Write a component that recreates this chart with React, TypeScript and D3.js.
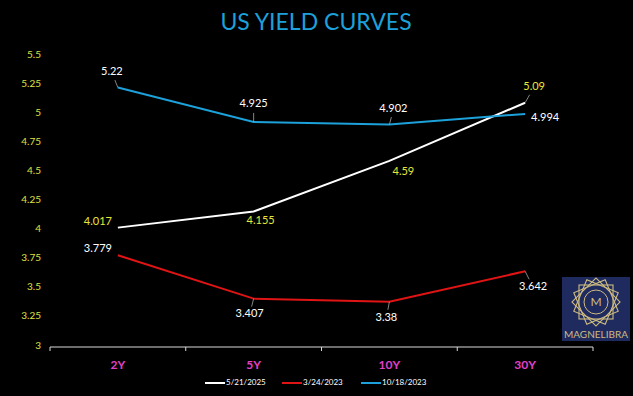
import React from "react";
import * as d3 from "d3";

const categories = ["2Y", "5Y", "10Y", "30Y"];
const yTicks = [3, 3.25, 3.5, 3.75, 4, 4.25, 4.5, 4.75, 5, 5.25, 5.5];
const seriesNames = ["5/21/2025", "3/24/2023", "10/18/2023"];
const values2025 = [4.017, 4.155, 4.59, 5.09];
const values2023Mar = [3.779, 3.407, 3.38, 3.642];
const values2023Oct = [5.22, 4.925, 4.902, 4.994];

const W = 633, H = 396;
const FONT = "Lato, 'Open Sans', sans-serif";

// label offsets (layout, not data)
const labelLayout: Record<string, { dx: number; dy: number; lead: boolean }[]> = {
  "5/21/2025": [
    { dx: -20, dy: -5, lead: false },
    { dx: 7, dy: 10, lead: false },
    { dx: 14, dy: 11, lead: false },
    { dx: 9, dy: -16, lead: true },
  ],
  "3/24/2023": [
    { dx: -20, dy: -6, lead: false },
    { dx: -4, dy: 16, lead: true },
    { dx: -3, dy: 16, lead: true },
    { dx: 8, dy: 16, lead: true },
  ],
  "10/18/2023": [
    { dx: -6, dy: -15, lead: true },
    { dx: 0, dy: -18, lead: true },
    { dx: 4, dy: -15, lead: true },
    { dx: 20, dy: 4, lead: false },
  ],
};

export default function App() {
  const x = d3.scaleBand<string>().domain(categories).range([50, 593]);
  const y = d3.scaleLinear().domain([3, 5.5]).range([346, 55]);
  const series = [
    { name: seriesNames[0], values: values2025, color: "#FFFFFF", labelColor: "#E8E83A" },
    { name: seriesNames[1], values: values2023Mar, color: "#E01414", labelColor: "#FFFFFF" },
    { name: seriesNames[2], values: values2023Oct, color: "#1DA1DA", labelColor: "#FFFFFF" },
  ];
  const cx = (c: string) => (x(c) as number) + x.bandwidth() / 2;
  const line = d3
    .line<number>()
    .x((_, i) => cx(categories[i]))
    .y((v) => y(v));

  const legendX = [205, 282, 361];

  // logo
  const lx = 562, ly = 277, lw = 68, lh = 64;
  const lcx = lx + lw / 2, lcy = ly + 25;
  const gold = "#CDBB82";

  return (
    <svg width={W} height={H} style={{ position: "absolute", left: 0, top: 0, background: "#000" }}>
      <rect x={0} y={0} width={W} height={H} fill="#000" />
      <text x={316} y={30} textAnchor="middle" fill="#1DA1DA" fontFamily={FONT} fontSize={23}>
        US YIELD CURVES
      </text>
      {yTicks.map((t) => (
        <text key={t} x={41} y={y(t)} textAnchor="end" dominantBaseline="middle" fill="#E0E040" fontFamily={FONT} fontSize={10}>
          {String(t)}
        </text>
      ))}
      <line x1={50} x2={593} y1={347} y2={347} stroke="#D9D9D9" strokeWidth={1} />
      {[...categories.map((c) => x(c) as number), 593].map((tx, i) => (
        <line key={i} x1={tx} x2={tx} y1={347} y2={351} stroke="#D9D9D9" strokeWidth={1} />
      ))}
      {categories.map((c) => (
        <text key={c} x={cx(c)} y={366} textAnchor="middle" dominantBaseline="middle" fill="#E040C8" fontFamily={FONT} fontWeight="bold" fontSize={12}>
          {c}
        </text>
      ))}
      {series.map((s) => (
        <path key={s.name} d={line(s.values) || ""} fill="none" stroke={s.color} strokeWidth={2} />
      ))}
      {series.map((s) =>
        s.values.map((v, i) => {
          const px = cx(categories[i]);
          const py = y(v);
          const L = labelLayout[s.name][i];
          return (
            <g key={s.name + i}>
              {L.lead && (
                <line x1={px} y1={py} x2={px + L.dx * 0.5} y2={py + L.dy * 0.5} stroke="#A6A6A6" strokeWidth={0.8} />
              )}
              <text x={px + L.dx} y={py + L.dy} textAnchor="middle" dominantBaseline="middle" fill={s.labelColor} fontFamily={FONT} fontSize={11}>
                {String(v)}
              </text>
            </g>
          );
        })
      )}
      {series.map((s, i) => (
        <g key={"lg" + s.name}>
          <line x1={legendX[i]} x2={legendX[i] + 20} y1={383} y2={383} stroke={s.color} strokeWidth={2} />
          <text x={legendX[i] + 21} y={383} dominantBaseline="middle" fill="#FFFFFF" fontFamily={FONT} fontSize={8}>
            {s.name}
          </text>
        </g>
      ))}
      <g>
        <rect x={lx} y={ly} width={lw} height={lh} fill="#1F2B5E" />
        {[0, 22.5, 45, 67.5].map((a) => (
          <rect key={a} x={lcx - 17} y={lcy - 17} width={34} height={34} fill="none" stroke={gold} strokeWidth={1.1}
            transform={`rotate(${a} ${lcx} ${lcy})`} />
        ))}
        <circle cx={lcx} cy={lcy} r={12} fill="#1F2B5E" stroke={gold} strokeWidth={1} />
        <text x={lcx} y={lcy + 1} textAnchor="middle" dominantBaseline="middle" fill={gold} fontFamily={FONT} fontSize={12}>M</text>
        <text x={lcx} y={ly + lh - 3} textAnchor="middle" fill={gold} fontFamily={FONT} fontSize={9.5} textLength={64} lengthAdjust="spacingAndGlyphs">MAGNELIBRA</text>
      </g>
    </svg>
  );
}
